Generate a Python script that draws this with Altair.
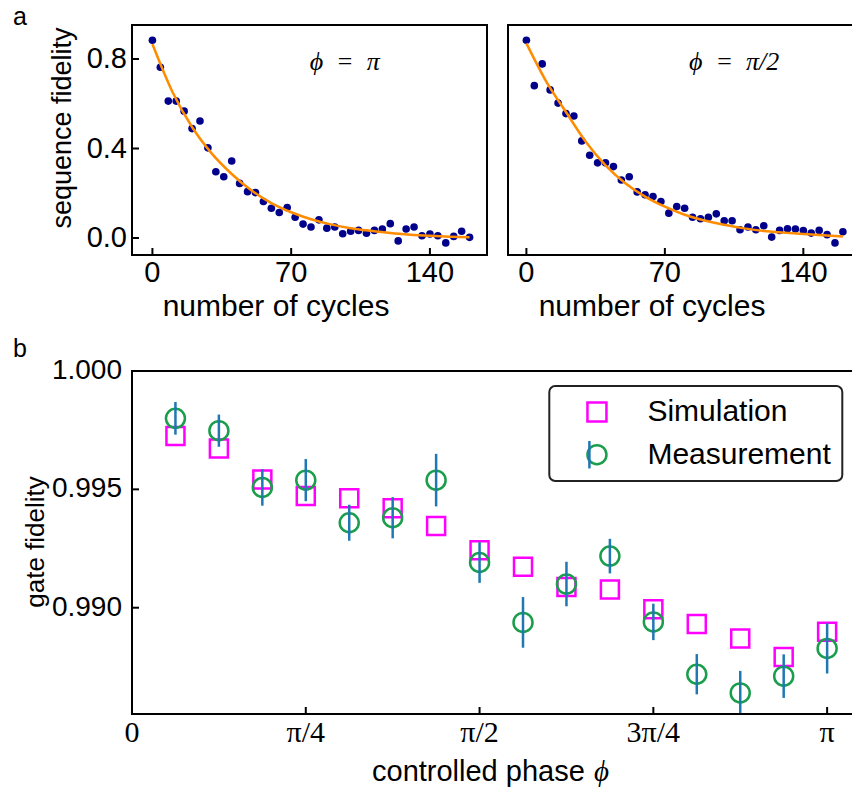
import math
import pandas as pd
import altair as alt

# ---------------- data ----------------
cycles = list(range(0, 161, 4))
fidelity_pi = [0.884, 0.763, 0.612, 0.612, 0.567, 0.489, 0.523, 0.403, 0.296, 0.274,
               0.344, 0.244, 0.207, 0.203, 0.163, 0.133, 0.114, 0.136, 0.093, 0.062,
               0.049, 0.081, 0.044, 0.049, 0.019, 0.030, 0.034, 0.021, 0.034, 0.040,
               0.064, -0.013, 0.040, 0.049, 0.010, 0.018, 0.010, -0.022, 0.007, 0.030,
               0.003]
fidelity_half = [0.884, 0.681, 0.778, 0.662, 0.603, 0.556, 0.545, 0.434, 0.370, 0.336,
                 0.336, 0.319, 0.259, 0.274, 0.206, 0.193, 0.185, 0.163, 0.111, 0.141,
                 0.133, 0.093, 0.086, 0.093, 0.108, 0.077, 0.077, 0.037, 0.049, 0.037,
                 0.055, 0.004, 0.034, 0.041, 0.040, 0.033, 0.022, 0.034, 0.015, -0.022,
                 0.028]
fit_cycles = list(range(0, 161, 10))
fit_pi = [0.867, 0.655, 0.496, 0.377, 0.286, 0.212, 0.156, 0.115, 0.084, 0.061,
          0.044, 0.032, 0.022, 0.015, 0.010, 0.006, 0.003]
fit_half = [0.870, 0.700, 0.563, 0.430, 0.325, 0.245, 0.185, 0.140, 0.104, 0.078,
            0.059, 0.043, 0.031, 0.024, 0.018, 0.012, 0.007]

phase_index = list(range(1, 17))          # phase = index * pi / 16
simulation = [0.99725, 0.99673, 0.99542, 0.99472, 0.99462, 0.99420, 0.99345, 0.99243,
              0.99173, 0.99088, 0.99077, 0.98993, 0.98931, 0.98870, 0.98792, 0.98898]
measurement = [0.99800, 0.99748, 0.99508, 0.99539, 0.99359, 0.99380, 0.99539, 0.99191,
               0.98938, 0.99100, 0.99218, 0.98940, 0.98719, 0.98640, 0.98711, 0.98828]
meas_error = [0.00069, 0.00068, 0.00077, 0.00089, 0.00076, 0.00087, 0.00111, 0.00086,
              0.00107, 0.00094, 0.00073, 0.00077, 0.00085, 0.00093, 0.00092, 0.00106]

top_x_ticks = [0, 70, 140]
top_x_labels = ["0", "70", "140"]
top_y_ticks = [0.0, 0.4, 0.8]
top_y_labels = ["0.0", "0.4", "0.8"]
bot_y_ticks = [0.990, 0.995, 1.000]
bot_y_labels = ["0.990", "0.995", "1.000"]
bot_x_ticks = [0, math.pi / 4, math.pi / 2, 3 * math.pi / 4, math.pi]
bot_x_labels = ["0", "π/4", "π/2", "3π/4", "π"]
series_names = ["Simulation", "Measurement"]

# ---------------- style ----------------
SANS = "Liberation Sans"
SERIF = "Liberation Serif"
NAVY = "#00008b"
ORANGE = "#ff8c00"
MAGENTA = "#ff00ff"
GREEN = "#1b9e4b"
BLUE = "#1f77b4"

TOP_H = 230
TL_W = 355
TR_W = 344
BOT_W = 720
BOT_H = 343
TICK = 7
ONE = pd.DataFrame({"z": [0]})


def extent_box(left, right, top, bottom, width, height):
    # invisible box that fixes the panel's layout bounds
    return alt.Chart(ONE).mark_rect(opacity=0).encode(
        x=alt.value(-left), x2=alt.value(width + right),
        y=alt.value(-top), y2=alt.value(height + bottom))


def frame(width, height, right_side):
    r = dict(color="black", strokeWidth=2, strokeCap="square")
    end = width if right_side else width - 1
    layers = [
        alt.Chart(ONE).mark_rule(**r).encode(x=alt.value(0), x2=alt.value(end), y=alt.value(0)),
        alt.Chart(ONE).mark_rule(**r).encode(x=alt.value(0), x2=alt.value(end), y=alt.value(height)),
        alt.Chart(ONE).mark_rule(**r).encode(x=alt.value(0), y=alt.value(0), y2=alt.value(height)),
    ]
    if right_side:
        layers.append(alt.Chart(ONE).mark_rule(**r).encode(
            x=alt.value(width), y=alt.value(0), y2=alt.value(height)))
    return layers


def text_at(label, x, y, size, font=SANS, angle=0, align="center", baseline="alphabetic",
            style="normal"):
    return alt.Chart(pd.DataFrame({"t": [label]})).mark_text(
        font=font, fontSize=size, angle=angle, align=align, baseline=baseline,
        fontStyle=style, color="black").encode(text="t:N", x=alt.value(x), y=alt.value(y))


def x_ticks(field, ticks, labels, scale, height, label_y, font, size):
    df = pd.DataFrame({field: ticks, "lab": labels})
    marks = alt.Chart(df).mark_rule(color="black", strokeWidth=2).encode(
        x=alt.X(f"{field}:Q", scale=scale, axis=None),
        y=alt.value(height), y2=alt.value(height - TICK))
    labs = alt.Chart(df).mark_text(font=font, fontSize=size, baseline="alphabetic",
                                   align="center", color="black").encode(
        x=alt.X(f"{field}:Q", scale=scale, axis=None),
        y=alt.value(height + label_y), text="lab:N")
    return [marks, labs]


def y_ticks(field, ticks, labels, scale, pad, size, with_labels=True):
    df = pd.DataFrame({field: ticks, "lab": labels})
    layers = [alt.Chart(df).mark_rule(color="black", strokeWidth=2).encode(
        y=alt.Y(f"{field}:Q", scale=scale, axis=None), x=alt.value(0), x2=alt.value(TICK))]
    if with_labels:
        layers.append(alt.Chart(df).mark_text(font=SANS, fontSize=size, baseline="middle",
                                              align="right", color="black").encode(
            y=alt.Y(f"{field}:Q", scale=scale, axis=None), x=alt.value(-pad), text="lab:N"))
    return layers


def top_panel(values, fit, annot, annot_x, xdom, width, first):
    pts = pd.DataFrame({"cycle": cycles, "fid": values})
    fitdf = pd.DataFrame({"cycle": fit_cycles, "fid": fit})
    xs = alt.Scale(domain=xdom, nice=False, zero=False)
    ys = alt.Scale(domain=[-0.076, 0.952], nice=False, zero=False)
    points = alt.Chart(pts).mark_circle(size=58, color=NAVY, opacity=1).encode(
        x=alt.X("cycle:Q", scale=xs, axis=None), y=alt.Y("fid:Q", scale=ys, axis=None))
    line = alt.Chart(fitdf).mark_line(color=ORANGE, strokeWidth=2.5,
                                       interpolate="monotone").encode(
        x=alt.X("cycle:Q", scale=xs, axis=None), y=alt.Y("fid:Q", scale=ys, axis=None))
    ann = alt.Chart(pd.DataFrame({"cycle": [annot_x], "fid": [0.751], "t": [annot]})).mark_text(
        font=SERIF, fontStyle="italic", fontSize=26, align="center", baseline="alphabetic",
        color="black").encode(
        x=alt.X("cycle:Q", scale=xs, axis=None), y=alt.Y("fid:Q", scale=ys, axis=None), text="t:N")
    layers = [points, line, ann]
    layers += x_ticks("cycle", top_x_ticks, top_x_labels, xs, TOP_H, 27, SANS, 29)
    layers.append(text_at("number of cycles", 144, TOP_H + 61, 30))
    if first:
        layers += y_ticks("fid", top_y_ticks, top_y_labels, ys, 5, 29)
        layers.append(text_at("sequence fidelity", -61, 103, 27, angle=270))
        layers.append(text_at("a", -119, 0, 25, align="left"))
        layers.append(extent_box(132, 10, 25, 78, width, TOP_H))
    else:
        layers.append(extent_box(11, 1, 25, 78, width, TOP_H))
    layers += frame(width, TOP_H, first)
    return alt.layer(*layers).properties(width=width, height=TOP_H)


left = top_panel(fidelity_pi, fit_pi, "ϕ\u2002=\u2002π", 97, [-10.3, 168.8], TL_W, True)
right = top_panel(fidelity_half, fit_half, "ϕ\u2002=\u2002π/2", 105, [-9.3, 164.6], TR_W, False)

# ---------------- bottom panel ----------------
phases = [k * math.pi / 16 for k in phase_index]
sim_df = pd.DataFrame({"phase": phases, "fid": simulation, "series": "Simulation"})
meas_df = pd.DataFrame({"phase": phases, "fid": measurement, "series": "Measurement"})
bar_df = pd.DataFrame({"phase": phases,
                       "lo": [m - e for m, e in zip(measurement, meas_error)],
                       "hi": [m + e for m, e in zip(measurement, meas_error)],
                       "bar": "Measurement"})

bxs = alt.Scale(domain=[0, 3.254], nice=False, zero=False)
bys = alt.Scale(domain=[0.98551, 1.0], nice=False, zero=False)

# legends are placed relative to the top-left panel's origin
main_legend = alt.Legend(title=None, orient="none", legendX=417.3, legendY=361, padding=11,
                         symbolOffset=21.65, symbolSize=361, symbolStrokeWidth=2.5,
                         labelFont=SANS, labelFontSize=30, labelColor="black", labelOffset=35.45,
                         labelLimit=400, rowPadding=12.7, strokeColor="#222222",
                         fillColor="white", cornerRadius=6)
bar_legend = alt.Legend(title=None, orient="none", legendX=442.4, legendY=414.7, padding=0,
                        symbolOffset=0, symbolType="M0,-1L0,1", symbolSize=756,
                        symbolStrokeColor=BLUE, symbolStrokeWidth=2.5,
                        labelFont=SANS, labelFontSize=10, labelOpacity=0, labelExpr="''",
                        strokeColor="transparent", fillColor="transparent")

color_enc = alt.Color("series:N", scale=alt.Scale(domain=series_names, range=[MAGENTA, GREEN]),
                      legend=main_legend)
shape_enc = alt.Shape("series:N", scale=alt.Scale(domain=series_names, range=["square", "circle"]),
                      legend=main_legend)

squares = alt.Chart(sim_df).mark_point(shape="square", filled=False, size=324,
                                       strokeWidth=2.5, opacity=1).encode(
    x=alt.X("phase:Q", scale=bxs, axis=None), y=alt.Y("fid:Q", scale=bys, axis=None),
    color=color_enc, shape=shape_enc)
circles = alt.Chart(meas_df).mark_point(shape="circle", filled=False, size=361,
                                        strokeWidth=2.5, opacity=1).encode(
    x=alt.X("phase:Q", scale=bxs, axis=None), y=alt.Y("fid:Q", scale=bys, axis=None),
    color=color_enc, shape=shape_enc)
bars = alt.Chart(bar_df).mark_rule(color=BLUE, strokeWidth=2.5).encode(
    x=alt.X("phase:Q", scale=bxs, axis=None), y=alt.Y("lo:Q", scale=bys, axis=None),
    y2="hi:Q",
    opacity=alt.Opacity("bar:N", scale=alt.Scale(domain=["Measurement"], range=[1, 1]),
                        legend=bar_legend))

bottom_layers = [squares, circles, bars]
bottom_layers += x_ticks("phase", bot_x_ticks, bot_x_labels, bxs, BOT_H, 28, SERIF, 30)
bottom_layers += y_ticks("fid", bot_y_ticks, bot_y_labels, bys, 10, 28)
bottom_layers += [
    text_at("controlled phase", 240, BOT_H + 67, 29, align="left"),
    text_at("ϕ", 462, BOT_H + 67, 29, font=SERIF, align="left", style="italic"),
    text_at("gate fidelity", -88, 171, 26, angle=270),
    text_at("b", -119, -14, 25, align="left"),
    extent_box(132, 1, 38, 76, BOT_W, BOT_H),
]
bottom_layers += frame(BOT_W, BOT_H, False)
bottom = alt.layer(*bottom_layers).properties(width=BOT_W, height=BOT_H)

top_row = alt.hconcat(left, right, spacing=0)
chart = alt.vconcat(top_row, bottom, spacing=0).properties(
    padding={"left": 0, "top": 0, "right": 0, "bottom": 0}
).configure_view(stroke=None).configure_legend(strokeWidth=2)

chart.save("out.html", embed_options={"renderer": "svg", "actions": False})
